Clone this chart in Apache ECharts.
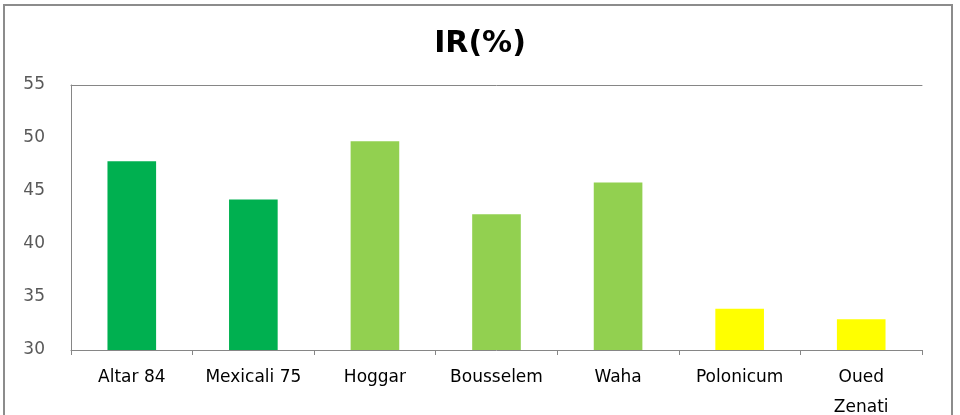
<!DOCTYPE html>
<html lang="fr">
<head>
    <meta charset="UTF-8">
    <title>IR(%)</title>
    <style>
        html, body { margin: 0; padding: 0; background: #fff; }
        #main { width: 960px; height: 415px; }
    </style>
    <script src="https://cdn.jsdelivr.net/npm/echarts@6/dist/echarts.min.js"></script>
</head>
<body>
<div id="main"></div>
<script type="text/javascript">
    // varietes et valeurs
    var categories = ['Altar 84', 'Mexicali 75', 'Hoggar', 'Bousselem', 'Waha', 'Polonicum', 'Oued\nZenati'];
    var irValues = [47.8, 44.2, 49.7, 42.8, 45.8, 33.9, 32.9];
    var barColors = ['#00B050', '#00B050', '#92D050', '#92D050', '#92D050', '#FFFF00', '#FFFF00'];
    var yTicks = [30, 35, 40, 45, 50, 55];

    var myChart = echarts.init(document.getElementById('main'));

    var seriesData = irValues.map(function (v, i) {
        return { value: v, itemStyle: { color: barColors[i] } };
    });

    var option = {
        backgroundColor: '#fff',
        animation: false,
        title: {
            text: 'IR(%)',
            left: 'center',
            top: 24,
            textStyle: { fontFamily: 'DejaVu Sans', fontWeight: 'bold', fontSize: 30, color: '#000' }
        },
        graphic: [{
            type: 'rect',
            shape: { x: 4, y: 5, width: 948, height: 420 },
            style: { fill: 'none', stroke: '#8c8c8c', lineWidth: 2 },
            silent: true
        }],
        grid: { left: 71, right: 38, top: 85, bottom: 65, outerBoundsMode: 'none', containLabel: false },
        xAxis: [{
            type: 'category',
            data: categories,
            axisLine: { lineStyle: { color: '#868686', width: 1 } },
            axisTick: { show: true, length: 5, lineStyle: { color: '#868686' } },
            axisLabel: { color: '#000', fontFamily: 'DejaVu Sans', fontSize: 17, margin: 13, lineHeight: 30, interval: 0 }
        }, {
            // ligne du haut de la zone de tracé
            type: 'category',
            position: 'top',
            data: categories,
            axisLine: { show: true, lineStyle: { color: '#868686', width: 1 } },
            axisTick: { show: false },
            axisLabel: { show: false }
        }],
        yAxis: {
            type: 'value',
            min: yTicks[0],
            max: yTicks[yTicks.length - 1],
            interval: 5,
            axisLine: { show: true, lineStyle: { color: '#868686', width: 1 } },
            axisTick: { show: false },
            splitLine: { show: false },
            axisLabel: { color: '#595959', fontFamily: 'DejaVu Sans', fontSize: 17, margin: 26 }
        },
        series: [{
            type: 'bar',
            data: seriesData,
            barWidth: '40%'
        }]
    };

    myChart.setOption(option);
</script>
</body>
</html>
